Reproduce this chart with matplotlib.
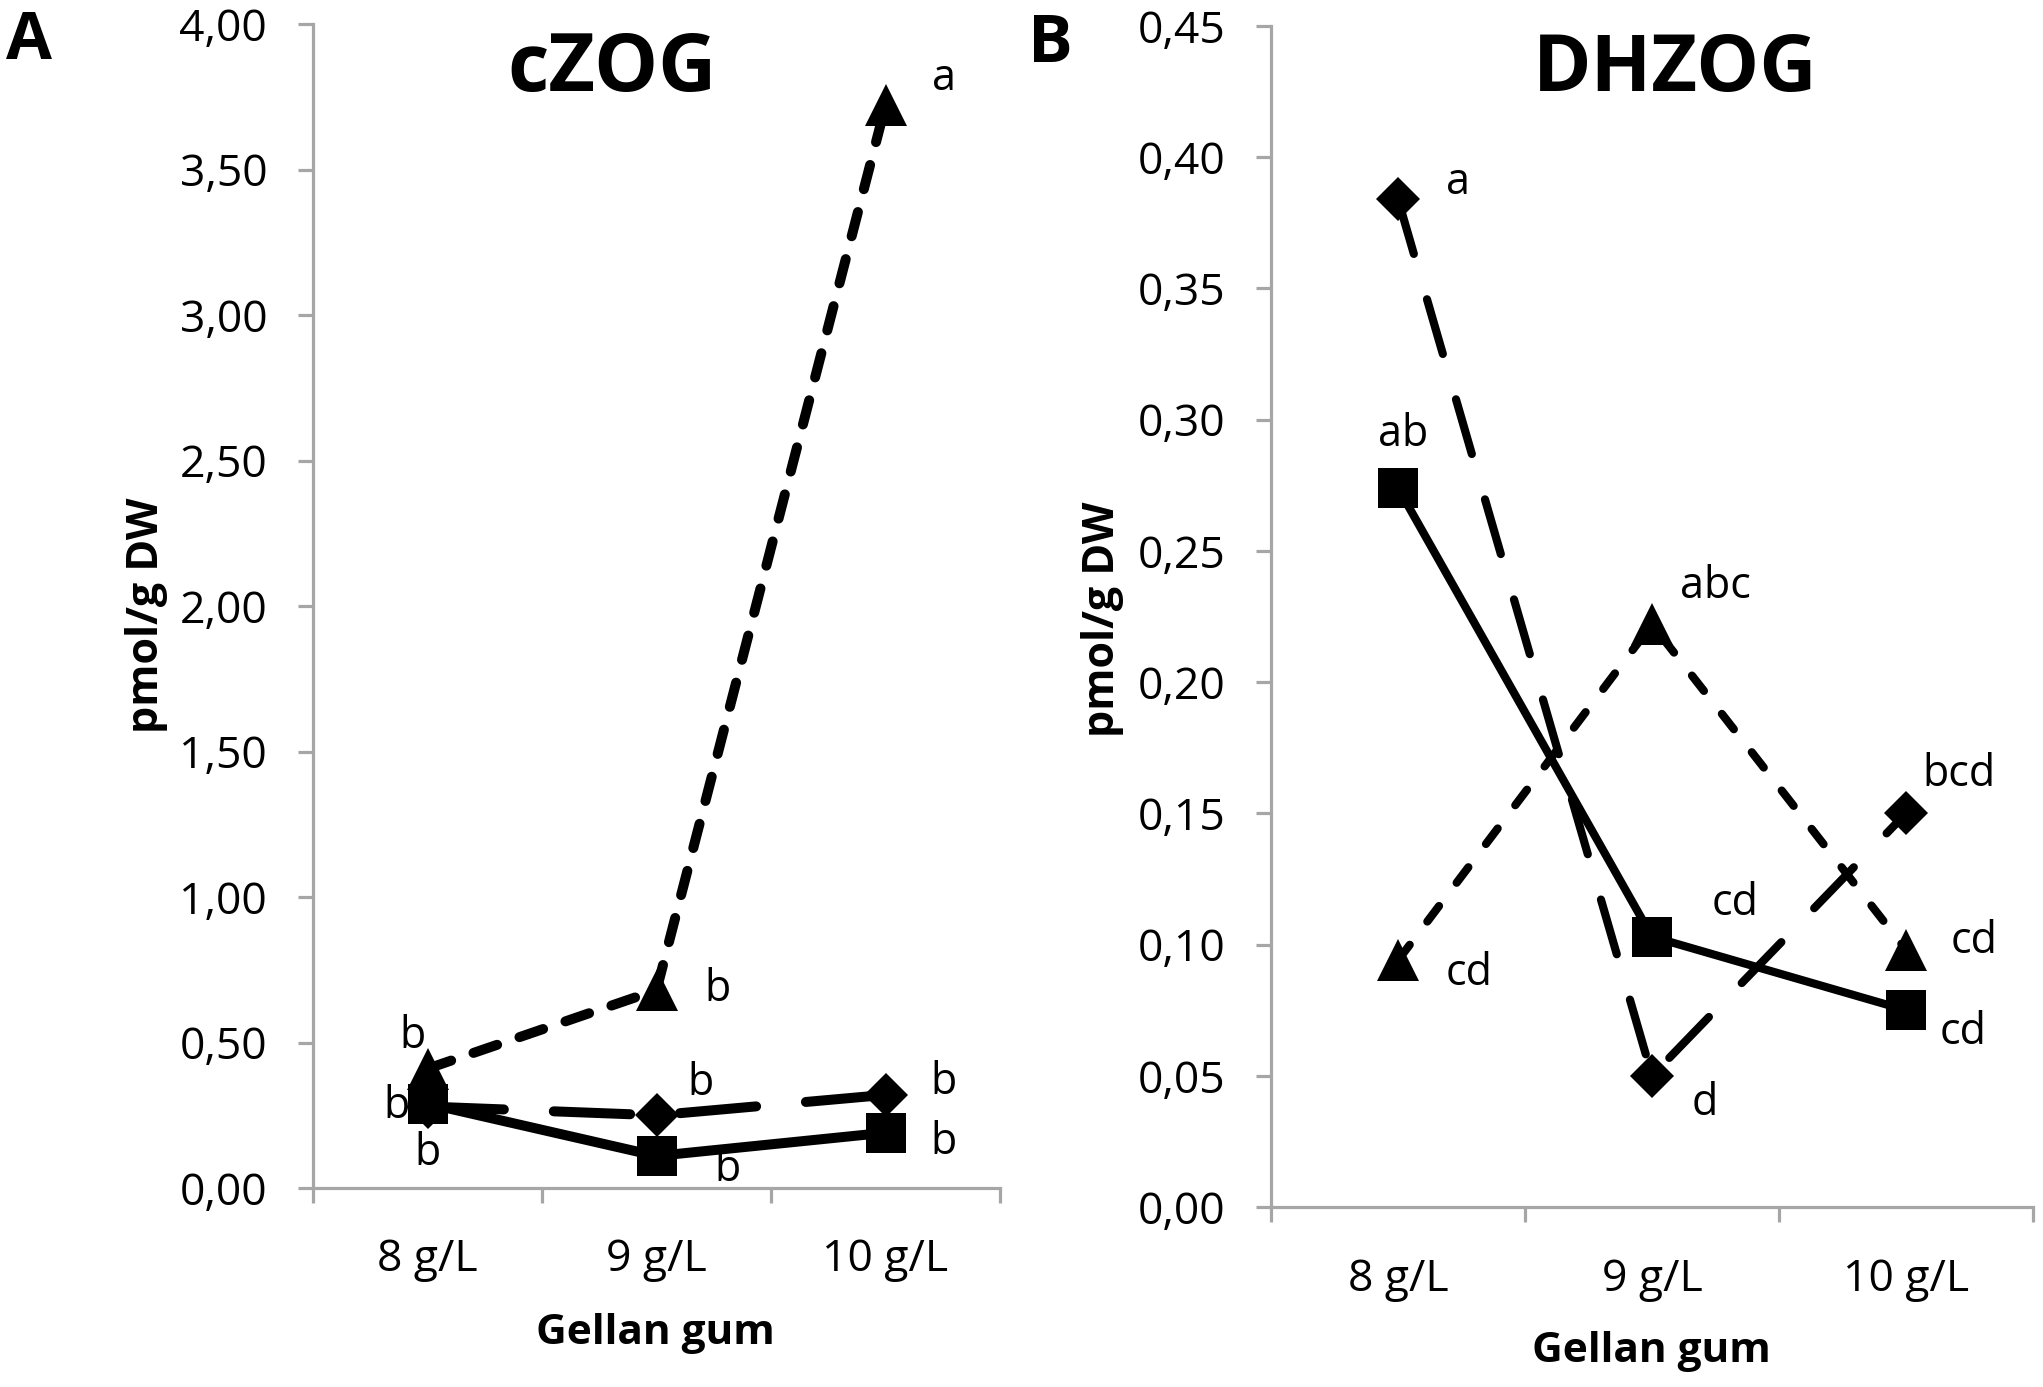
import matplotlib
matplotlib.use('Agg')
import matplotlib.pyplot as plt
from matplotlib.ticker import FuncFormatter, FixedLocator

plt.rcParams['font.family'] = ['Open Sans', 'DejaVu Sans']
plt.rcParams['lines.scale_dashes'] = False

# ---------------- data ----------------
categories = ["8 g/L", "9 g/L", "10 g/L"]

czog_square = [0.29, 0.11, 0.19]
czog_diamond = [0.28, 0.25, 0.32]
czog_triangle = [0.41, 0.68, 3.72]
czog_square_letters = ["b", "b", "b"]
czog_diamond_letters = ["b", "b", "b"]
czog_triangle_letters = ["b", "b", "a"]

dhzog_square = [0.274, 0.103, 0.075]
dhzog_diamond = [0.384, 0.050, 0.150]
dhzog_triangle = [0.094, 0.222, 0.098]
dhzog_square_letters = ["ab", "cd", "cd"]
dhzog_diamond_letters = ["a", "d", "bcd"]
dhzog_triangle_letters = ["cd", "abc", "cd"]

czog_yticks = [0.0, 0.5, 1.0, 1.5, 2.0, 2.5, 3.0, 3.5, 4.0]
dhzog_yticks = [0.0, 0.05, 0.10, 0.15, 0.20, 0.25, 0.30, 0.35, 0.40, 0.45]

# ---------------- figure ----------------
W, H = 2043, 1387
fig = plt.figure(figsize=(W / 100, H / 100), dpi=100)

GRAY = '#A6A6A6'
TICK_FS = 32
LETTER_FS = 31


def px2fx(x):
    return x / W


def px2fy(y):
    return 1 - y / H


def style_axes(ax, yticks, ylim):
    x = list(range(len(categories)))
    ax.set_xlim(-0.5, len(categories) - 0.5)
    ax.set_ylim(*ylim)
    for s in ['top', 'right']:
        ax.spines[s].set_visible(False)
    for s in ['left', 'bottom']:
        ax.spines[s].set_color(GRAY)
        ax.spines[s].set_linewidth(2.3)
    ax.set_xticks(x)
    ax.set_xticklabels(categories, fontsize=TICK_FS)
    ax.xaxis.set_minor_locator(FixedLocator([i - 0.5 for i in range(len(categories) + 1)]))
    ax.tick_params(axis='x', which='major', length=0, pad=36)
    ax.tick_params(axis='x', which='minor', length=11, width=2.3, color=GRAY, direction='out')
    ax.set_yticks(yticks)
    ax.yaxis.set_major_formatter(FuncFormatter(lambda v, p: f"{v:.2f}".replace('.', ',')))
    ax.tick_params(axis='y', which='major', length=11, width=2.3, color=GRAY,
                   direction='out', labelsize=TICK_FS, pad=22)


def draw_series(ax, vals, marker, ms, ls, lw):
    x = list(range(len(vals)))
    ax.plot(x, vals, color='black', linestyle=ls, linewidth=lw,
            marker=marker, markersize=ms, markeredgewidth=0,
            dash_capstyle='round', solid_capstyle='round', clip_on=False)


def letters(ax, vals, labs, offsets):
    for i, (v, t, off) in enumerate(zip(vals, labs, offsets)):
        ax.annotate(t, (i, v), xytext=off, textcoords='offset points',
                    ha='center', va='center', fontsize=LETTER_FS, annotation_clip=False)


# ---------------- panel A ----------------
axA = fig.add_axes([px2fx(313), px2fy(1188), px2fx(1000 - 313), (1188 - 24) / H])
style_axes(axA, czog_yticks, (0, 4.0))
lwA = 7.2
draw_series(axA, czog_diamond, 'D', 22, (0, (55, 36)), lwA)
draw_series(axA, czog_square, 's', 29, '-', lwA)
draw_series(axA, czog_triangle, '^', 30, (0, (18, 17)), lwA)
letters(axA, czog_square, czog_square_letters, [(0, -36), (51, -10), (42, -7)])
letters(axA, czog_diamond, czog_diamond_letters, [(-22, 0), (32, 23), (42, 9)])
letters(axA, czog_triangle, czog_triangle_letters, [(-11, 23), (44, 0), (42, 19)])

# ---------------- panel B ----------------
axB = fig.add_axes([px2fx(1271), px2fy(1207), px2fx(2033 - 1271), (1207 - 26) / H])
style_axes(axB, dhzog_yticks, (0, 0.45))
lwB = 5.9
draw_series(axB, dhzog_diamond, 'D', 22, (0, (41, 34)), lwB)
draw_series(axB, dhzog_square, 's', 29, '-', lwB)
draw_series(axB, dhzog_triangle, '^', 30, (0, (14, 21)), lwB)
letters(axB, dhzog_square, dhzog_square_letters, [(4, 38), (60, 24), (41, -16)])
letters(axB, dhzog_diamond, dhzog_diamond_letters, [(43, 12), (38, -20), (38, 28)])
letters(axB, dhzog_triangle, dhzog_triangle_letters, [(51, -10), (46, 27), (49, 6)])

# ---------------- texts ----------------
fig.text(px2fx(612), px2fy(91), "cZOG", fontsize=58, fontweight='bold', ha='center', va='baseline')
fig.text(px2fx(1675), px2fy(91), "DHZOG", fontsize=57, fontweight='bold', ha='center', va='baseline')
fig.text(px2fx(6), px2fy(8), "A", fontsize=48, fontweight='bold', ha='left', va='top')
fig.text(px2fx(1028), px2fy(11), "B", fontsize=48, fontweight='bold', ha='left', va='top')
fig.text(px2fx(146), px2fy(615), "pmol/g DW", fontsize=31, fontweight='bold', ha='center',
         va='center', rotation=90)
fig.text(px2fx(1102), px2fy(619), "pmol/g DW", fontsize=31, fontweight='bold', ha='center',
         va='center', rotation=90)
fig.text(px2fx(655), px2fy(1334), "Gellan gum", fontsize=30.5, fontweight='bold', ha='center', va='center')
fig.text(px2fx(1651), px2fy(1352), "Gellan gum", fontsize=30.5, fontweight='bold', ha='center', va='center')

fig.savefig('out.png', dpi=100, facecolor='white')
